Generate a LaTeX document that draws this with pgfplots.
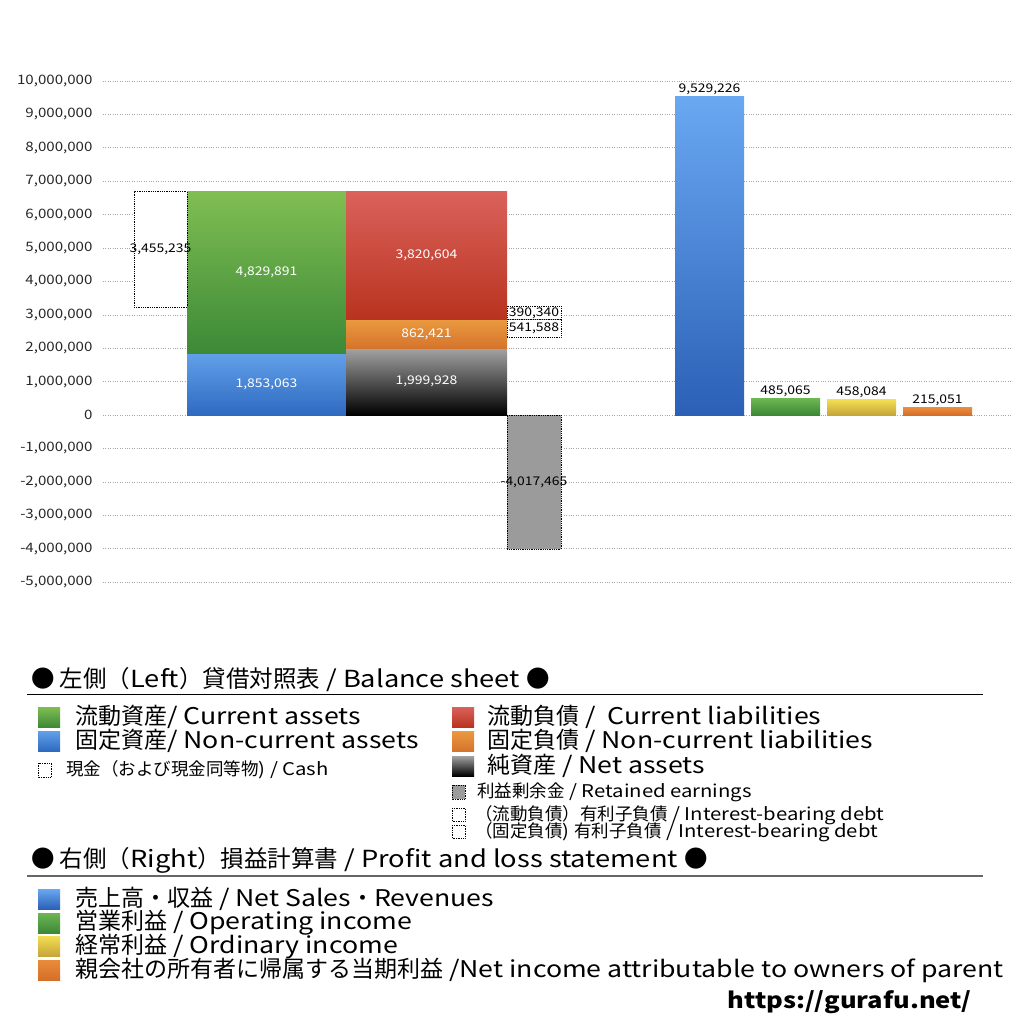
\documentclass[border=0pt]{standalone}
\usepackage{pgfplots}
\pgfplotsset{compat=1.18}
\usepackage{fontspec}
\setmainfont{Noto Sans CJK JP}[FakeStretch=1.16]
\newfontfamily\jp{Noto Sans CJK JP}
% bar colours (top / bottom of each gradient)
\definecolor{caT}{HTML}{80BE52}\definecolor{caB}{HTML}{3C8937}
\definecolor{ncaT}{HTML}{62A0EA}\definecolor{ncaB}{HTML}{2F6AC0}
\definecolor{clT}{HTML}{DA625B}\definecolor{clB}{HTML}{B9331F}
\definecolor{nclT}{HTML}{EA9A40}\definecolor{nclB}{HTML}{D5742C}
\definecolor{naT}{HTML}{A3A3A3}\definecolor{naB}{HTML}{000000}
\definecolor{reF}{HTML}{9B9B9B}
\definecolor{revT}{HTML}{6AA8F2}\definecolor{revB}{HTML}{2B60B6}
\definecolor{opT}{HTML}{6CB653}\definecolor{opB}{HTML}{3D8835}
\definecolor{ordT}{HTML}{F2DE52}\definecolor{ordB}{HTML}{C6A53A}
\definecolor{netT}{HTML}{E88C3A}\definecolor{netB}{HTML}{D66E28}
\begin{document}
\begin{tikzpicture}
\path[use as bounding box] (0pt,0pt) rectangle (1024pt,-1024pt);
\begin{axis}[
  at={(103pt,-582pt)}, anchor=south west,
  scale only axis, width=909pt, height=501pt,
  xmin=103, xmax=1012, ymin=-5000000, ymax=10000000,
  clip=false,
  axis line style={draw=none},
  xtick=\empty,
  ytick={-5000000,-4000000,-3000000,-2000000,-1000000,0,1000000,2000000,3000000,4000000,5000000,6000000,7000000,8000000,9000000,10000000},
  ymajorgrids, grid style={black!35, dotted, line width=0.6pt},
  major tick length=0pt,
  scaled y ticks=false,
  /pgf/number format/fixed,
  /pgf/number format/1000 sep={,},
  /pgf/number format/assume math mode=true,
  yticklabel style={font=\fontsize{13}{15}\selectfont, text=black!85, xshift=-7pt},
]
% balance sheet: assets
\addplot[draw=none, top color=ncaT, bottom color=ncaB] coordinates {(187,0) (346,0) (346,1853063) (187,1853063) (187,0)};
\addplot[draw=none, top color=caT, bottom color=caB] coordinates {(187,1853063) (346,1853063) (346,6682954) (187,6682954) (187,1853063)};
% liabilities and net assets
\addplot[draw=none, top color=naT, bottom color=naB] coordinates {(346,0) (507,0) (507,1999928) (346,1999928) (346,0)};
\addplot[draw=none, top color=nclT, bottom color=nclB] coordinates {(346,1999928) (507,1999928) (507,2862349) (346,2862349) (346,1999928)};
\addplot[draw=none, top color=clT, bottom color=clB] coordinates {(346,2862349) (507,2862349) (507,6682953) (346,6682953) (346,2862349)};
% cash
\addplot[draw=black, densely dotted, line width=0.8pt, fill=white] coordinates {(134,3227719) (187,3227719) (187,6682954) (134,6682954) (134,3227719)};
% interest-bearing debt
\addplot[draw=black, densely dotted, line width=0.8pt, fill=white] coordinates {(507,2862349) (561,2862349) (561,3252689) (507,3252689) (507,2862349)};
\addplot[draw=black, densely dotted, line width=0.8pt, fill=white] coordinates {(507,2320761) (561,2320761) (561,2862349) (507,2862349) (507,2320761)};
% retained earnings
\addplot[draw=black, densely dotted, line width=0.8pt, fill=reF] coordinates {(507,0) (561,0) (561,-4017465) (507,-4017465) (507,0)};
% profit and loss
\addplot[draw=none, top color=revT, bottom color=revB] coordinates {(675,0) (744,0) (744,9529226) (675,9529226) (675,0)};
\addplot[draw=none, top color=opT, bottom color=opB] coordinates {(751,0) (820,0) (820,485065) (751,485065) (751,0)};
\addplot[draw=none, top color=ordT, bottom color=ordB] coordinates {(827,0) (896,0) (896,458084) (827,458084) (827,0)};
\addplot[draw=none, top color=netT, bottom color=netB] coordinates {(903,0) (972,0) (972,215051) (903,215051) (903,0)};
% value labels
\begin{scope}[every node/.style={font=\fontsize{12}{14}\selectfont, inner sep=0pt}]
\node[text=white] at (axis cs:266.5,4268422) {4,829,891};
\node[text=white] at (axis cs:266.5,926531) {1,853,063};
\node[text=white] at (axis cs:426.5,4772651) {3,820,604};
\node[text=white] at (axis cs:426.5,2431138) {862,421};
\node[text=white] at (axis cs:426.5,999964) {1,999,928};
\node at (axis cs:160.5,4955336) {3,455,235};
\node at (axis cs:534,3057519) {390,340};
\node at (axis cs:534,2591555) {541,588};
\node at (axis cs:534,-2008732) {-4,017,465};
\node[anchor=south] at (axis cs:709.5,9579226) {9,529,226};
\node[anchor=south] at (axis cs:785.5,535065) {485,065};
\node[anchor=south] at (axis cs:861.5,508084) {458,084};
\node[anchor=south] at (axis cs:937.5,265051) {215,051};
\end{scope}
\end{axis}
% legend block (pixel coordinates, y downward)
\begin{scope}[x=1pt, y=-1pt]
\def\big{\fontsize{23}{26}\selectfont}
\def\sml{\fontsize{17.5}{19}\selectfont}
\node[anchor=west, inner sep=0pt, font=\fontsize{23.5}{26}\selectfont] at (31,680) {{\jp ● 左側（}Left{\jp ）貸借対照表} / Balance sheet {\jp ●}};
\draw[black, line width=1pt] (27,694) -- (983,694);
% left column
\shade[top color=caT, bottom color=caB] (38,707) rectangle (60,727);
\node[anchor=west, inner sep=0pt, font=\big] at (75,717) {{\jp 流動資産}/ Current assets};
\shade[top color=ncaT, bottom color=ncaB] (38,731) rectangle (60,751);
\node[anchor=west, inner sep=0pt, font=\big] at (75,741) {{\jp 固定資産}/ Non-current assets};
\draw[densely dotted, line width=0.7pt] (38,763) rectangle (51,777);
\node[anchor=west, inner sep=0pt, font=\sml] at (66,770) {{\jp 現金（および現金同等物}) / Cash};
% right column
\shade[top color=clT, bottom color=clB] (452,707) rectangle (474,727);
\node[anchor=west, inner sep=0pt, font=\big] at (487,717) {{\jp 流動負債} /\ \ Current liabilities};
\shade[top color=nclT, bottom color=nclB] (452,731) rectangle (474,751);
\node[anchor=west, inner sep=0pt, font=\big] at (487,741) {{\jp 固定負債} / Non-current liabilities};
\shade[top color=naT, bottom color=naB] (452,756) rectangle (474,776);
\node[anchor=west, inner sep=0pt, font=\big] at (487,766) {{\jp 純資産} / Net assets};
\draw[densely dotted, line width=0.7pt, fill=reF] (452,785) rectangle (465,799);
\node[anchor=west, inner sep=0pt, font=\sml] at (477,792) {{\jp 利益剰余金} / Retained earnings};
\draw[densely dotted, line width=0.7pt] (452,808) rectangle (465,821);
\node[anchor=west, inner sep=0pt, font=\sml] at (475,815) {{\jp （流動負債）有利子負債} / Interest-bearing debt};
\draw[densely dotted, line width=0.7pt] (452,825) rectangle (465,838);
\node[anchor=west, inner sep=0pt, font=\sml] at (475,832) {{\jp （固定負債}) {\jp 有利子負債} / Interest-bearing debt};
% profit and loss
\node[anchor=west, inner sep=0pt, font=\fontsize{23.5}{26}\selectfont] at (31,860) {{\jp ● 右側（}Right{\jp ）損益計算書} / Profit and loss statement {\jp ●}};
\draw[black!60, line width=1.5pt] (27,876) -- (983,876);
\shade[top color=revT, bottom color=revB] (38,889) rectangle (60,909);
\node[anchor=west, inner sep=0pt, font=\big] at (75,899) {{\jp 売上高・収益} / Net Sales{\jp ・}Revenues};
\shade[top color=opT, bottom color=opB] (38,913) rectangle (60,933);
\node[anchor=west, inner sep=0pt, font=\big] at (75,923) {{\jp 営業利益} / Operating income};
\shade[top color=ordT, bottom color=ordB] (38,936) rectangle (60,956);
\node[anchor=west, inner sep=0pt, font=\big] at (75,946) {{\jp 経常利益} / Ordinary income};
\shade[top color=netT, bottom color=netB] (38,960) rectangle (60,980);
\node[anchor=west, inner sep=0pt, font=\big] at (75,970) {{\jp 親会社の所有者に帰属する当期利益} /Net income attributable to owners of parent};
\node[anchor=east, inner sep=0pt, font=\fontsize{22}{24}\selectfont\bfseries] at (972,1002) {https://gurafu.net/};
\end{scope}
\end{tikzpicture}
\end{document}
